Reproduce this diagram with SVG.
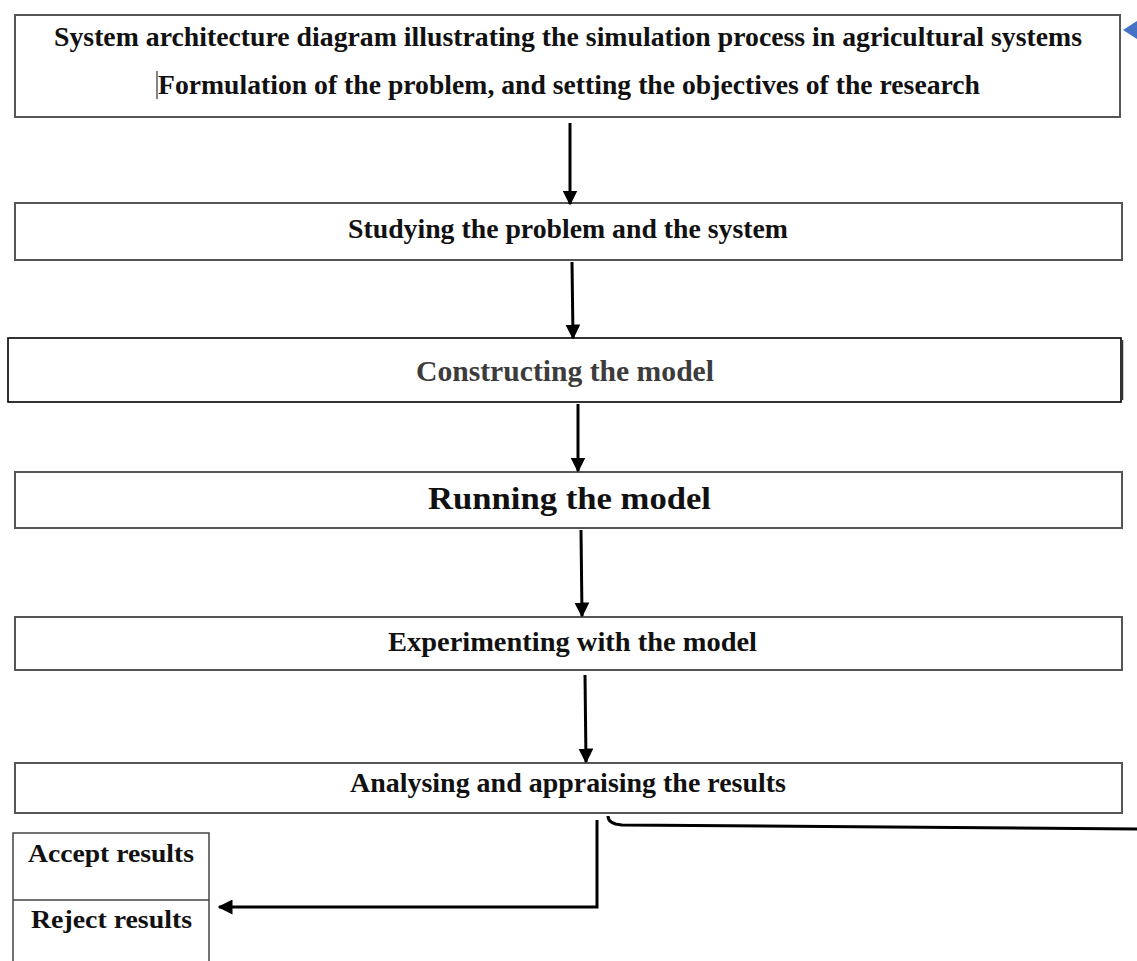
<svg xmlns="http://www.w3.org/2000/svg" width="1137" height="961" viewBox="0 0 1137 961">
<defs>
<marker id="ah" viewBox="0 0 10 10" refX="9" refY="5" markerWidth="5" markerHeight="5" orient="auto" markerUnits="strokeWidth">
<path d="M0,0 L10,5 L0,10 Z" fill="#000"/>
</marker>
<style>
.box{fill:#fff;stroke:#555;stroke-width:2}
.box3{fill:#fff;stroke:#000;stroke-width:1.6}
.t{font-family:"Liberation Serif","Times New Roman",serif;font-weight:bold;fill:#111;font-size:28px}
.s{font-size:26px}
.c{fill:none;stroke:#000;stroke-width:3}
</style>
</defs>
<g id="n1">
<rect class="box" x="15" y="15" width="1105" height="102"/>
<text class="t" x="54" y="46" textLength="1028" lengthAdjust="spacingAndGlyphs">System architecture diagram illustrating the simulation process in agricultural systems</text>
<line x1="157" y1="71" x2="157" y2="99" stroke="#333" stroke-width="1.2"/>
<text class="t" x="158" y="94" textLength="822" lengthAdjust="spacingAndGlyphs">Formulation of the problem, and setting the objectives of the research</text>
<path d="M1123,30 L1137,21 L1137,39 Z" fill="#4472c4"/>
</g>
<g id="n2">
<rect class="box" x="15" y="203" width="1107" height="57"/>
<text class="t" x="348" y="238" textLength="440" lengthAdjust="spacingAndGlyphs">Studying the problem and the system</text>
</g>
<g id="n3">
<rect class="box3" x="8" y="338" width="1113" height="64"/>
<line x1="1122.5" y1="340" x2="1122.5" y2="400" stroke="#333" stroke-width="1.5"/>
<text class="t" x="416" y="381" style="fill:#3c3c3c;font-size:30px" textLength="298" lengthAdjust="spacingAndGlyphs">Constructing the model</text>
</g>
<g id="n4">
<rect class="box" x="15" y="472" width="1107" height="56"/>
<text class="t" x="428" y="509" style="font-size:32px" textLength="283" lengthAdjust="spacingAndGlyphs">Running the model</text>
</g>
<g id="n5">
<rect class="box" x="15" y="617" width="1107" height="53"/>
<text class="t" x="388" y="651" textLength="369" lengthAdjust="spacingAndGlyphs">Experimenting with the model</text>
</g>
<g id="n6">
<rect class="box" x="15" y="763" width="1107" height="50"/>
<text class="t" x="350" y="792" textLength="436" lengthAdjust="spacingAndGlyphs">Analysing and appraising the results</text>
</g>
<g id="n7">
<rect fill="#fff" stroke="#444" stroke-width="1.5" x="13" y="833" width="196" height="140"/>
<line x1="13" y1="900" x2="209" y2="900" stroke="#444" stroke-width="1.5"/>
<text class="t s" x="28" y="862" textLength="166" lengthAdjust="spacingAndGlyphs">Accept results</text>
<text class="t s" x="31" y="928" textLength="161" lengthAdjust="spacingAndGlyphs">Reject results</text>
</g>
<g id="connectors">
<line class="c" x1="570" y1="123" x2="570" y2="204" marker-end="url(#ah)"/>
<line class="c" x1="572" y1="262" x2="573" y2="338" marker-end="url(#ah)"/>
<line class="c" x1="578" y1="404" x2="578" y2="471" marker-end="url(#ah)"/>
<line class="c" x1="581" y1="530" x2="582" y2="616" marker-end="url(#ah)"/>
<line class="c" x1="585" y1="675" x2="586" y2="762" marker-end="url(#ah)"/>
<path class="c" d="M597,820 L597,907 L219,907" marker-end="url(#ah)"/>
<path class="c" d="M608,816 Q608,824 622,825 L1137,829"/>
</g>
</svg>
